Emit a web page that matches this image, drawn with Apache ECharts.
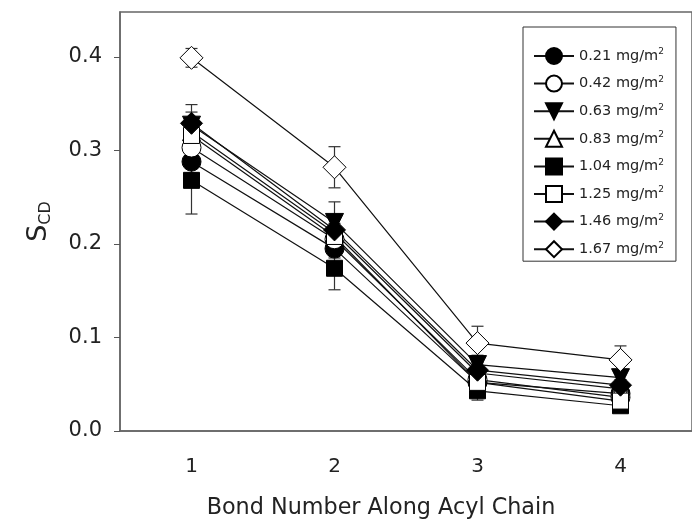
<!DOCTYPE html>
<html>
<head>
<meta charset="utf-8">
<script src="https://cdn.jsdelivr.net/npm/echarts@6/dist/echarts.min.js"></script>
<style>
  html, body { margin: 0; padding: 0; background: #fff; }
  #chart { width: 692px; height: 527px; }
</style>
</head>
<body>
<div id="chart"></div>
<script>
  // bond number along the acyl chain
  var bonds = ['1', '2', '3', '4']
  var yTicks = [0, 0.1, 0.2, 0.3, 0.4]

  // order parameter S_CD per surface coverage (mg/m2)
  var s021 = [0.288, 0.195, 0.052, 0.040]
  var s042 = [0.303, 0.205, 0.055, 0.036]
  var s063 = [0.327, 0.223, 0.071, 0.057]
  var s083 = [0.320, 0.212, 0.062, 0.045]
  var s104 = [0.268, 0.174, 0.043, 0.027]
  var s125 = [0.316, 0.208, 0.052, 0.032]
  var s146 = [0.329, 0.215, 0.065, 0.049]
  var s167 = [0.399, 0.282, 0.094, 0.076]

  // error bar half-widths
  var e021 = [0.012, 0.010, 0.006, 0.005]
  var e042 = [0.010, 0.010, 0.006, 0.005]
  var e063 = [0.022, 0.022, 0.010, 0.008]
  var e083 = [0.010, 0.010, 0.006, 0.005]
  var e104 = [0.036, 0.023, 0.010, 0.006]
  var e125 = [0.010, 0.010, 0.006, 0.005]
  var e146 = [0.012, 0.012, 0.008, 0.006]
  var e167 = [0.010, 0.022, 0.018, 0.015]

  var names = ['0.21', '0.42', '0.63', '0.83', '1.04', '1.25', '1.46', '1.67']
  var values = [s021, s042, s063, s083, s104, s125, s146, s167]
  var errors = [e021, e042, e063, e083, e104, e125, e146, e167]

  // symbol styles: shape, filled?, size, rotate
  var marks = [
    ['circle', true, 19, 0],
    ['circle', false, 19, 0],
    ['triangle', true, 18, 180],
    ['triangle', false, 18, 0],
    ['rect', true, 16, 0],
    ['rect', false, 16, 0],
    ['diamond', true, 22, 0],
    ['diamond', false, 23, 0]
  ]

  var chart = echarts.init(document.getElementById('chart'))
  var FONT = 'DejaVu Sans, sans-serif'

  var series = []
  values.forEach(function (vals, i) {
    var errData = vals.map(function (v, j) { return [j, v, errors[i][j]] })
    series.push({
      type: 'custom',
      silent: true,
      z: 2,
      renderItem: function (params, api) {
        var x = api.coord([api.value(0), 0])[0]
        var top = api.coord([api.value(0), api.value(1) + api.value(2)])[1]
        var bot = api.coord([api.value(0), api.value(1) - api.value(2)])[1]
        var st = { stroke: '#333', lineWidth: 1.2 }
        return {
          type: 'group',
          children: [
            { type: 'line', shape: { x1: x, y1: top, x2: x, y2: bot }, style: st },
            { type: 'line', shape: { x1: x - 6, y1: top, x2: x + 6, y2: top }, style: st },
            { type: 'line', shape: { x1: x - 6, y1: bot, x2: x + 6, y2: bot }, style: st }
          ]
        }
      },
      data: errData
    })
  })
  values.forEach(function (vals, i) {
    var m = marks[i]
    series.push({
      name: names[i],
      type: 'line',
      z: 2,
      data: vals,
      symbol: m[0],
      symbolSize: m[2],
      symbolRotate: m[3],
      showAllSymbol: true,
      lineStyle: { color: '#111', width: 1.2 },
      itemStyle: { color: m[1] ? '#000' : '#fff', borderColor: '#000', borderWidth: 1 },
      emphasis: { disabled: true }
    })
  })

  chart.setOption({
    animation: false,
    backgroundColor: '#fff',
    grid: { left: 120, right: -11, top: 12, bottom: 96, show: true, borderColor: '#666', borderWidth: 1.5 },
    legend: {
      left: 523,
      top: 27,
      orient: 'vertical',
      padding: [20, 12, 3, 10],
      itemWidth: 40,
      itemHeight: 20,
      itemGap: 9.6,
      borderColor: '#333',
      borderWidth: 1,
      data: names,
      formatter: function (n) { return n + ' mg/m{sup|2}' },
      textStyle: {
        fontFamily: FONT, fontSize: 14.5, color: '#222',
        rich: { sup: { fontSize: 9, fontFamily: FONT, color: '#222', verticalAlign: 'bottom', padding: [0, 0, 8, 0] } }
      }
    },
    xAxis: {
      type: 'category',
      data: bonds,
      boundaryGap: true,
      name: 'Bond Number Along Acyl Chain',
      nameLocation: 'middle',
      nameGap: 66,
      nameTextStyle: { fontFamily: FONT, fontSize: 22.3, color: '#222', padding: [0, 50, 0, 0] },
      axisLine: { lineStyle: { color: '#666', width: 1.5 } },
      axisTick: { alignWithLabel: true, length: 6, lineStyle: { color: '#555' } },
      axisLabel: { fontFamily: FONT, fontSize: 20, color: '#222', margin: 26 },
      splitLine: { show: false }
    },
    yAxis: {
      type: 'value',
      min: 0,
      max: 0.448,
      interval: 0.1,
      name: '{s|S}{sub|CD}',
      nameLocation: 'middle',
      nameRotate: 90,
      nameGap: 66,
      nameTextStyle: {
        fontFamily: FONT, color: '#222',
        rich: {
          s: { fontFamily: FONT, fontSize: 27, color: '#222' },
          sub: { fontFamily: FONT, fontSize: 16, color: '#222', verticalAlign: 'top', padding: [14, 0, 0, 0] }
        }
      },
      axisLine: { show: true, lineStyle: { color: '#666', width: 1.5 } },
      axisTick: { show: true, length: 6, lineStyle: { color: '#555' } },
      axisLabel: {
        fontFamily: FONT, fontSize: 21, color: '#222', margin: 18, showMaxLabel: false,
        formatter: function (v) { return yTicks.indexOf(Math.round(v * 10) / 10) >= 0 ? v.toFixed(1) : '' }
      },
      splitLine: { show: false }
    },
    series: series
  })
</script>
</body>
</html>
